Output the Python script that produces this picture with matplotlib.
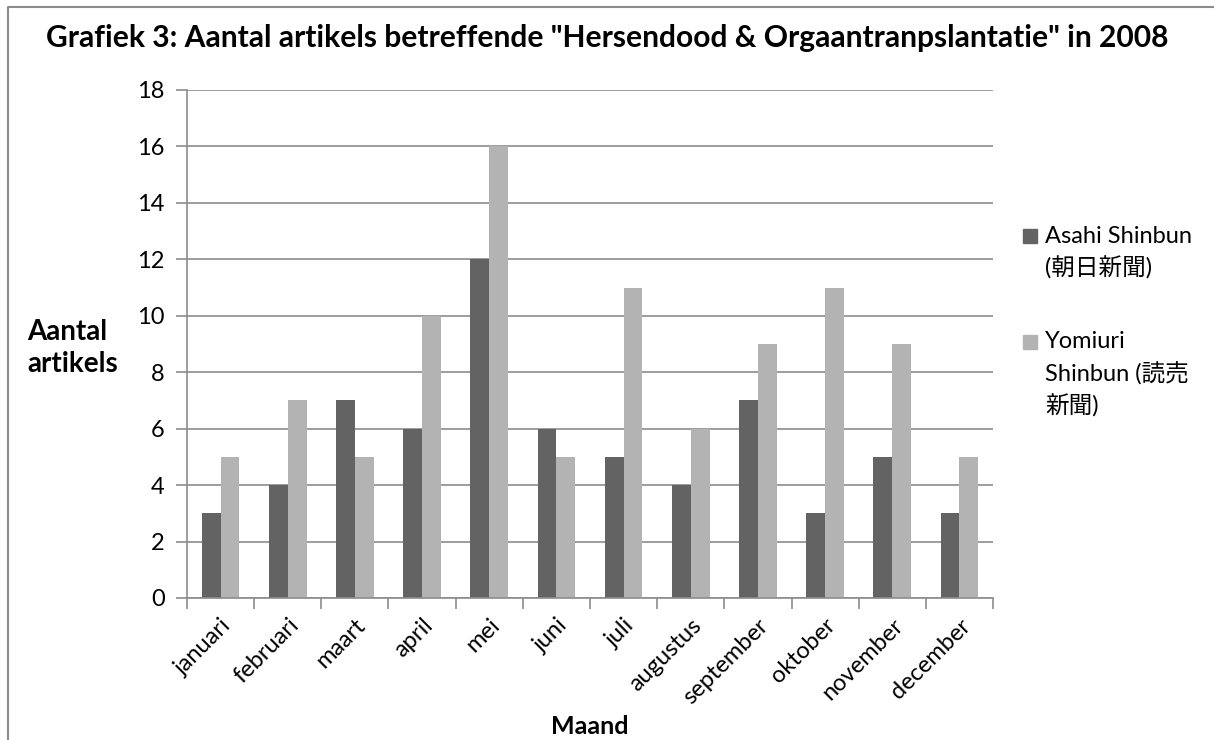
import numpy as np
import matplotlib.pyplot as plt
from matplotlib.lines import Line2D
from matplotlib.patches import Rectangle

# data
months = ["januari", "februari", "maart", "april", "mei", "juni", "juli",
          "augustus", "september", "oktober", "november", "december"]
asahi = [3, 4, 7, 6, 12, 6, 5, 4, 7, 3, 5, 3]
yomiuri = [5, 7, 5, 10, 16, 5, 11, 6, 9, 11, 9, 5]
series_names = ["Asahi Shinbun\n(朝日新聞)", "Yomiuri\nShinbun (読売\n新聞)"]

plt.rcParams['font.family'] = ['Lato', 'Noto Sans CJK JP', 'DejaVu Sans']

W, H = 1214, 740
fig = plt.figure(figsize=(W / 100, H / 100), dpi=100)
ax = fig.add_axes([187 / W, 1 - 598 / H, (993 - 187) / W, (598 - 90) / H])

x = np.arange(len(months))
w = 0.28
dark = "#636363"
light = "#b3b3b3"
colors = [dark, light]
ax.bar(x - w / 2, asahi, w, color=dark)
ax.bar(x + w / 2, yomiuri, w, color=light)

ax.set_xlim(-0.5, len(months) - 0.5)
ax.set_ylim(0, 18)
ax.set_yticks(range(0, 19, 2))
ax.yaxis.grid(True, color="#8c8c8c", linewidth=1.2)
ax.set_axisbelow(True)

for s in ["top", "right"]:
    ax.spines[s].set_visible(False)
for s in ["left", "bottom"]:
    ax.spines[s].set_color("#8c8c8c")
    ax.spines[s].set_linewidth(1.2)

# ticks at category boundaries
ax.set_xticks(x)
ax.set_xticklabels(months, rotation=45, ha="right", rotation_mode="anchor")
ax.tick_params(axis="x", which="major", length=0, pad=12, labelsize=17)
ax.set_xticks(np.arange(-0.5, len(months)), minor=True)
ax.tick_params(axis="x", which="minor", length=8, color="#8c8c8c", width=1.2)
ax.tick_params(axis="y", length=8, color="#8c8c8c", width=1.2, labelsize=17, pad=8)

fig.text(0.5, 1 - 38 / H, 'Grafiek 3: Aantal artikels betreffende "Hersendood & Orgaantranpslantatie" in 2008',
         ha="center", va="center", fontsize=21.6, fontweight="bold")
fig.text(27 / W, 1 - 348 / H, "Aantal\nartikels", ha="left", va="center",
         fontsize=20, fontweight="bold", linespacing=1.32)
fig.text(590 / W, 1 - 727 / H, "Maand", ha="center", va="center",
         fontsize=18, fontweight="bold")

# legend, Excel style: marker aligned with first text line
legend_y = [236, 342]
line_h = 32
for name, c, y0 in zip(series_names, colors, legend_y):
    fig.add_artist(Rectangle((1023 / W, 1 - (y0 + 7) / H), 14 / W, 14 / H,
                             transform=fig.transFigure, color=c))
    for i, line in enumerate(name.split("\n")):
        fig.text(1045 / W, 1 - (y0 + i * line_h) / H, line, ha="left", va="center",
                 fontsize=17)

# outer frame (left and top edges visible)
fig.add_artist(Line2D([8 / W, 8 / W, 1.0], [0.0, 1 - 7 / H, 1 - 7 / H],
                      transform=fig.transFigure, color="#8c8c8c", linewidth=1.5))

fig.savefig("out.png", dpi=100)
